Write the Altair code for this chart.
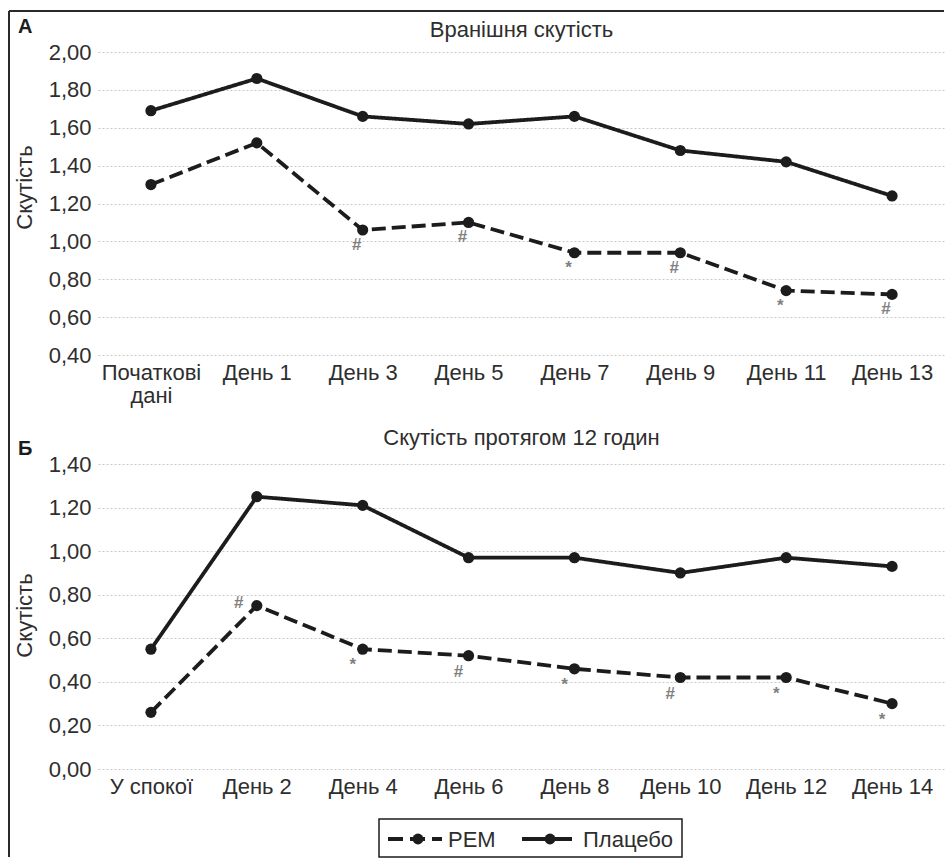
import altair as alt
import pandas as pd

# ---- data -------------------------------------------------------------
SERIES = ["PEM", "Плацебо"]

# Panel A: morning stiffness
cats_a = ["Початкові\nдані", "День 1", "День 3", "День 5", "День 7", "День 9", "День 11", "День 13"]
pem_a = [1.30, 1.52, 1.06, 1.10, 0.94, 0.94, 0.74, 0.72]
placebo_a = [1.69, 1.86, 1.66, 1.62, 1.66, 1.48, 1.42, 1.24]
signif_a = ["", "", "#", "#", "*", "#", "*", "#"]
ticks_a = [0.40, 0.60, 0.80, 1.00, 1.20, 1.40, 1.60, 1.80, 2.00]

# Panel B: stiffness over 12 hours
cats_b = ["У спокої", "День 2", "День 4", "День 6", "День 8", "День 10", "День 12", "День 14"]
pem_b = [0.26, 0.75, 0.55, 0.52, 0.46, 0.42, 0.42, 0.30]
placebo_b = [0.55, 1.25, 1.21, 0.97, 0.97, 0.90, 0.97, 0.93]
signif_b = ["", "#", "*", "#", "*", "#", "*", "*"]
signif_above_b = ["День 2"]
ticks_b = [0.00, 0.20, 0.40, 0.60, 0.80, 1.00, 1.20, 1.40]

# ---- style ------------------------------------------------------------
FONT = "Liberation Sans"
FS = 22
INK = "#1c1c1c"
TXT = "#2e2e2e"
MARK_GREY = "#808080"
W = 847


def long_table(cats, pem, placebo):
    rows = []
    for name, vals in zip(SERIES, [pem, placebo]):
        for i, (c, v) in enumerate(zip(cats, vals)):
            rows.append({"cat": c, "series": name, "value": v, "idx": i})
    return pd.DataFrame(rows)


def one(text=""):
    return pd.DataFrame({"t": [text]})


def panel(cats, pem, placebo, signif, ticks, height, title, letter,
          ytitle_y, title_y, letter_y, above=(), sig_dx=-6, sig_dy=15):
    df = long_table(cats, pem, placebo)
    x = alt.X(
        "cat:N", sort=cats,
        axis=alt.Axis(
            title=None, labelAngle=0, labelFont=FONT, labelFontSize=FS,
            labelColor=TXT, ticks=False, tickSize=0, domain=False,
            labelPadding=7, labelLineHeight=23,
            labelExpr="split(datum.label, '\\n')",
        ),
    )
    y = alt.Y(
        "value:Q",
        scale=alt.Scale(domain=[ticks[0], ticks[-1]], nice=False, zero=False),
        axis=alt.Axis(
            values=ticks,
            labelExpr="replace(format(datum.value, '.2f'), '.', ',')",
            labelFont=FONT, labelFontSize=FS, labelColor=TXT,
            grid=True, gridColor="#c8c8c8", gridDash=[2, 2], gridWidth=1,
            domain=False, ticks=False, tickSize=0, labelPadding=7,
            title="Скутість", titleFont=FONT, titleFontSize=FS,
            titleFontWeight="normal", titleColor=TXT, titleAngle=-90,
            titleBaseline="alphabetic", titleX=-67, titleY=ytitle_y,
        ),
    )

    lines = alt.Chart(df).mark_line(strokeWidth=3.8, color=INK).encode(
        x=x, y=y,
        strokeDash=alt.StrokeDash(
            "series:N",
            scale=alt.Scale(domain=SERIES, range=[[14, 6], [1, 0]]),
            legend=None,
        ),
        order="idx:Q",
    )
    points = alt.Chart(df).mark_circle(size=125, color=INK, opacity=1).encode(
        x=x, y=y, detail="series:N"
    )

    sig = pd.DataFrame({"cat": cats, "value": pem, "sym": signif})
    sig = sig[sig["sym"] != ""]
    sig_below = sig[~sig["cat"].isin(above)]
    sig_above = sig[sig["cat"].isin(above)]
    sig_style = dict(fontSize=17, fontWeight="bold", color=MARK_GREY,
                     font=FONT, baseline="middle")
    below_text = alt.Chart(sig_below).mark_text(
        dx=sig_dx, dy=sig_dy, **sig_style
    ).encode(x=x, y=y, text="sym:N")
    layers = [lines, points, below_text]
    if len(sig_above):
        layers.append(
            alt.Chart(sig_above).mark_text(dx=-18, dy=-3, **sig_style)
            .encode(x=x, y=y, text="sym:N")
        )

    title_text = alt.Chart(one(title)).mark_text(
        font=FONT, fontSize=FS, color=TXT, align="center", baseline="alphabetic"
    ).encode(x=alt.value(W / 2), y=alt.value(title_y), text="t:N")
    letter_text = alt.Chart(one(letter)).mark_text(
        font=FONT, fontSize=20, fontWeight="bold", color=INK,
        align="left", baseline="alphabetic"
    ).encode(x=alt.value(-80), y=alt.value(letter_y), text="t:N")
    layers += [title_text, letter_text]
    return layers, height


# ---- panel A ----------------------------------------------------------
layers_a, h_a = panel(cats_a, pem_a, placebo_a, signif_a, ticks_a, 303,
                      "Вранішня скутість", "А", ytitle_y=135, title_y=-15,
                      letter_y=-19, sig_dx=-6, sig_dy=15)

# outer frame (left and top edges)
frame_left = alt.Chart(one()).mark_rule(color="#2a2a2a", strokeWidth=2).encode(
    x=alt.value(-89), y=alt.value(-41), y2=alt.value(805)
)
frame_top = alt.Chart(one()).mark_rule(color="#2a2a2a", strokeWidth=2).encode(
    x=alt.value(-89), x2=alt.value(846), y=alt.value(-41)
)
chart_a = alt.layer(*layers_a, frame_left, frame_top).properties(width=W, height=h_a)

# ---- panel B ----------------------------------------------------------
layers_b, h_b = panel(cats_b, pem_b, placebo_b, signif_b, ticks_b, 305,
                      "Скутість протягом 12 годин", "Б", ytitle_y=151,
                      title_y=-19, letter_y=-9, above=signif_above_b,
                      sig_dx=-10, sig_dy=16)

# legend drawn below panel B
legend_box = alt.Chart(one()).mark_rect(fill="white", stroke=INK, strokeWidth=1.5).encode(
    x=alt.value(281), x2=alt.value(584), y=alt.value(355), y2=alt.value(393)
)


def legend_item(name, x0, x1, xc, xt, dash):
    rule = alt.Chart(one()).mark_rule(color=INK, strokeWidth=4, strokeDash=dash).encode(
        x=alt.value(x0), x2=alt.value(x1), y=alt.value(375)
    )
    dot = alt.Chart(one()).mark_circle(size=120, color=INK, opacity=1).encode(
        x=alt.value(xc), y=alt.value(375)
    )
    label = alt.Chart(one(name)).mark_text(
        font=FONT, fontSize=FS, color=TXT, align="left", baseline="alphabetic"
    ).encode(x=alt.value(xt), y=alt.value(383), text="t:N")
    return [rule, dot, label]


legend_layers = [legend_box]
legend_layers += legend_item(SERIES[0], 290, 344, 320, 350, [15, 7])
legend_layers += legend_item(SERIES[1], 424, 474, 452, 485, [1, 0])

chart_b = alt.layer(*layers_b, *legend_layers).properties(width=W, height=h_b)

chart = (
    alt.vconcat(chart_a, chart_b, spacing=109, bounds="flush")
    .resolve_scale(x="independent", y="independent", strokeDash="independent")
    .properties(padding={"left": 8, "top": 10, "right": 0, "bottom": 0},
                background="white")
    .configure_view(stroke=None)
)

chart.save("out.html", embed_options={"renderer": "svg", "actions": False})
